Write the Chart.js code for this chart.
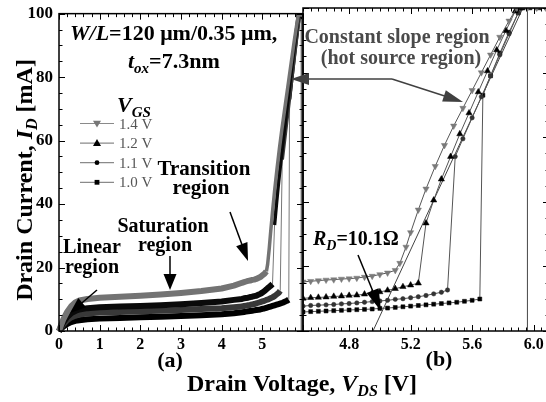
<!DOCTYPE html>
<html>
<head>
<meta charset="utf-8">
<script src="https://cdn.jsdelivr.net/npm/chart.js@4.4.1/dist/chart.umd.min.js"></script>
<style>
  html, body { margin: 0; padding: 0; background: #fff; overflow: hidden; }
  #wrap { position: relative; width: 546px; height: 402px; overflow: hidden; }
  #wrap canvas { position: absolute; left: 0; top: 0; }
</style>
</head>
<body>
<div id="wrap">
  <canvas id="chartA" width="546" height="402"></canvas>
  <canvas id="chartB" width="560" height="402"></canvas>
</div>
<script>
// V_GS curves (V_DS in V, I_D in mA)
var vgsLabels = ['1.4 V', '1.2 V', '1.1 V', '1.0 V'];

var vds14 = [0, 0.05, 0.1, 0.2, 0.3, 0.4, 0.5, 0.7, 1.0, 1.5, 2.0, 2.5, 3.0, 3.5, 4.0, 4.3,
  4.5, 4.55, 4.6, 4.65, 4.7, 4.75, 4.8, 4.85, 4.9, 4.95, 5.0, 5.05, 5.1, 5.13,
  5.17, 5.2, 5.25, 5.3, 5.36, 5.42, 5.48, 5.54, 5.6, 5.66, 5.72, 5.78, 5.84, 5.89,
  5.96, 6.02, 6.08, 6.14];
var id14 = [0, 1.8, 3.5, 6.0, 7.8, 9.0, 9.6, 10.1, 10.5, 10.8, 11.1, 11.5, 12.0, 12.6, 13.4, 14.3,
  15.2, 15.4, 15.6, 15.8, 15.9, 16.1, 16.2, 16.4, 16.7, 17.0, 17.5, 18.0, 18.8, 21.0,
  26.0, 30.5, 37.5, 44.0, 51.0, 57.5, 63.5, 69.0, 74.5, 80.0, 85.5, 91.0, 96.0, 100,
  100, 100, 100, 100];

var vds12 = [0, 0.05, 0.1, 0.2, 0.3, 0.4, 0.5, 0.7, 1.0, 1.5, 2.0, 2.5, 3.0, 3.5, 4.0, 4.3,
  4.5, 4.55, 4.6, 4.65, 4.7, 4.75, 4.8, 4.85, 4.9, 4.95, 5.0, 5.05, 5.1, 5.15, 5.2, 5.25,
  5.3, 5.35, 5.4, 5.46, 5.52, 5.58, 5.64, 5.7, 5.76, 5.82, 5.88, 5.91,
  5.97, 6.03, 6.09, 6.15];
var id12 = [0, 1.3, 2.6, 4.4, 5.6, 6.3, 6.8, 7.2, 7.5, 7.7, 7.9, 8.1, 8.4, 8.8, 9.3, 9.8,
  10.1, 10.3, 10.4, 10.5, 10.7, 10.8, 11.0, 11.1, 11.4, 11.7, 12.1, 12.6, 13.1, 13.7, 14.2, 14.8,
  33.4, 40.5, 47.0, 54.0, 61.0, 67.5, 74.0, 80.5, 87.0, 93.0, 99.0, 100,
  100, 100, 100, 100];

var vds11 = [0, 0.05, 0.1, 0.2, 0.3, 0.4, 0.5, 0.7, 1.0, 1.5, 2.0, 2.5, 3.0, 3.5, 4.0, 4.3,
  4.5, 4.55, 4.6, 4.65, 4.7, 4.75, 4.8, 4.85, 4.9, 4.95, 5.0, 5.05, 5.1, 5.15, 5.2, 5.25, 5.3, 5.35, 5.4, 5.44,
  5.49, 5.54, 5.6, 5.66, 5.72, 5.78, 5.84, 5.9, 5.92];
var id11 = [0, 1.0, 2.0, 3.4, 4.3, 4.8, 5.2, 5.5, 5.8, 6.0, 6.2, 6.4, 6.6, 6.9, 7.2, 7.5,
  7.7, 7.9, 8.0, 8.1, 8.2, 8.4, 8.5, 8.7, 8.9, 9.1, 9.3, 9.5, 9.8, 10.0, 10.3, 10.6, 11.0, 11.5, 12.0, 12.7,
  54.0, 59.5, 66.0, 72.5, 79.0, 85.5, 92.0, 98.5, 100];

var vds10 = [0, 0.05, 0.1, 0.2, 0.3, 0.4, 0.5, 0.7, 1.0, 1.5, 2.0, 2.5, 3.0, 3.5, 4.0, 4.3,
  4.5, 4.55, 4.6, 4.65, 4.7, 4.75, 4.8, 4.85, 4.9, 4.95, 5.0, 5.05, 5.1, 5.15, 5.2, 5.25, 5.3, 5.35, 5.4, 5.45, 5.5, 5.55, 5.6, 5.65,
  5.67, 5.72, 5.78, 5.84, 5.9, 5.93];
var id10 = [0, 0.7, 1.3, 2.2, 2.8, 3.2, 3.4, 3.7, 3.9, 4.1, 4.3, 4.5, 4.7, 5.0, 5.3, 5.6,
  5.9, 6.0, 6.1, 6.2, 6.3, 6.4, 6.5, 6.6, 6.7, 6.8, 7.0, 7.1, 7.3, 7.5, 7.7, 7.9, 8.1, 8.3, 8.5, 8.7, 8.9, 9.2, 9.5, 9.9,
  73.0, 79.0, 86.0, 92.5, 98.5, 100];

// R_D = 10.1 ohm fit line and the sweep return line
var rdVds = [4.955, 5.93];
var rdId = [0, 100];
var retVds = [5.96, 5.96];
var retId = [100, 0];

// tick labels
var xTicksA = [0, 1, 2, 3, 4, 5];
var xTicksB = [4.8, 5.2, 5.6, 6.0];
var yTicks = [0, 20, 40, 60, 80, 100];

var serif = '"Liberation Serif", "Times New Roman", serif';
var curveColors = ['#737373', '#0a0a0a', '#383838', '#000000'];

function pts(xs, ys) {
  return xs.map(function (x, i) { return { x: x, y: ys[i] }; });
}

function isMultiple(v, step) {
  var q = v / step;
  return Math.abs(q - Math.round(q)) < 1e-6;
}

function drawFrame(chart, xMinor, xMajor, yMinor, yMajor) {
  var ctx = chart.ctx, a = chart.chartArea, xs = chart.scales.x, ys = chart.scales.y;
  ctx.save();
  ctx.strokeStyle = '#000';
  ctx.lineWidth = 1;
  ctx.beginPath();
  var n = Math.round((xs.max - xs.min) / xMinor);
  for (var i = 0; i <= n; i++) {
    var v = xs.min + i * xMinor;
    var len = isMultiple(v, xMajor) ? 6 : 3.5;
    var px = Math.round(xs.getPixelForValue(v)) + 0.5;
    ctx.moveTo(px, a.bottom); ctx.lineTo(px, a.bottom - len);
    ctx.moveTo(px, a.top); ctx.lineTo(px, a.top + len);
  }
  n = Math.round((ys.max - ys.min) / yMinor);
  for (i = 0; i <= n; i++) {
    v = ys.min + i * yMinor;
    len = isMultiple(v, yMajor) ? 6 : 3.5;
    var py = Math.round(ys.getPixelForValue(v)) + 0.5;
    ctx.moveTo(a.left, py); ctx.lineTo(a.left + len, py);
    ctx.moveTo(a.right, py); ctx.lineTo(a.right - len, py);
  }
  ctx.stroke();
  ctx.lineWidth = 1.5;
  ctx.strokeRect(a.left, a.top, a.right - a.left, a.bottom - a.top);
  ctx.restore();
}

// text made of pieces with different fonts (italic letters, subscripts)
function richText(ctx, parts, x, y, align) {
  var total = 0;
  parts.forEach(function (p) {
    ctx.font = p.font;
    p.w = ctx.measureText(p.text).width;
    total += p.w;
  });
  var cx = align === 'center' ? x - total / 2 : x;
  ctx.textAlign = 'left';
  ctx.textBaseline = 'alphabetic';
  parts.forEach(function (p) {
    ctx.font = p.font;
    ctx.fillText(p.text, cx, y + (p.dy || 0));
    cx += p.w;
  });
}

function arrow(ctx, x0, y0, x1, y1, headLen, headW, color, lw) {
  var ang = Math.atan2(y1 - y0, x1 - x0);
  var c = Math.cos(ang), s = Math.sin(ang);
  ctx.save();
  ctx.strokeStyle = color;
  ctx.fillStyle = color;
  ctx.lineWidth = lw;
  ctx.beginPath();
  ctx.moveTo(x0, y0);
  ctx.lineTo(x1 - c * headLen * 0.8, y1 - s * headLen * 0.8);
  ctx.stroke();
  ctx.beginPath();
  ctx.moveTo(x1, y1);
  ctx.lineTo(x1 - headLen * c + headW / 2 * s, y1 - headLen * s - headW / 2 * c);
  ctx.lineTo(x1 - headLen * c - headW / 2 * s, y1 - headLen * s + headW / 2 * c);
  ctx.closePath();
  ctx.fill();
  ctx.restore();
}

function marker(ctx, style, x, y, r, color) {
  ctx.fillStyle = color;
  ctx.beginPath();
  if (style === 'down') {
    ctx.moveTo(x - r, y - r * 0.7); ctx.lineTo(x + r, y - r * 0.7); ctx.lineTo(x, y + r);
  } else if (style === 'up') {
    ctx.moveTo(x - r, y + r * 0.7); ctx.lineTo(x + r, y + r * 0.7); ctx.lineTo(x, y - r);
  } else if (style === 'circle') {
    ctx.arc(x, y, r * 0.6, 0, 2 * Math.PI);
  } else {
    ctx.rect(x - r * 0.6, y - r * 0.6, r * 1.2, r * 1.2);
  }
  ctx.closePath();
  ctx.fill();
}

function b(size) { return 'bold ' + size + 'px ' + serif; }
function bi(size) { return 'italic bold ' + size + 'px ' + serif; }

function drawPanelA(chart) {
  var ctx = chart.ctx;
  drawFrame(chart, 0.2, 1, 5, 20);
  ctx.save();
  ctx.fillStyle = '#000';

  // axis titles
  richText(ctx, [
    { text: 'Drain Voltage, ', font: b(24) },
    { text: 'V', font: bi(24) },
    { text: 'DS', font: bi(16), dy: 5 },
    { text: ' [V]', font: b(24) }
  ], 302, 391, 'center');
  ctx.save();
  ctx.translate(32, 180);
  ctx.rotate(-Math.PI / 2);
  richText(ctx, [
    { text: 'Drain Current, ', font: b(24) },
    { text: 'I', font: bi(24) },
    { text: 'D', font: bi(16), dy: 5 },
    { text: ' [mA]', font: b(24) }
  ], 0, 0, 'center');
  ctx.restore();

  ctx.font = b(22);
  ctx.textAlign = 'center';
  ctx.fillText('(a)', 170, 367);
  ctx.fillText('(b)', 439, 366);

  // device annotation
  richText(ctx, [
    { text: 'W/L', font: bi(22) },
    { text: '=120 \u03bcm/0.35 \u03bcm,', font: b(22) }
  ], 70, 40, 'left');
  richText(ctx, [
    { text: 't', font: bi(22) },
    { text: 'ox', font: bi(15), dy: 5 },
    { text: '=7.3nm', font: b(22) }
  ], 128, 68, 'left');

  // legend
  richText(ctx, [
    { text: 'V', font: bi(22) },
    { text: 'GS', font: bi(15), dy: 5 }
  ], 117, 112, 'left');
  var styles = ['down', 'up', 'circle', 'square'];
  var mColors = ['#777', '#000', '#000', '#000'];
  vgsLabels.forEach(function (lab, i) {
    var y = 123.5 + i * 19.6;
    ctx.strokeStyle = '#8a8a8a';
    ctx.lineWidth = 1.2;
    ctx.beginPath();
    ctx.moveTo(80, y); ctx.lineTo(114, y);
    ctx.stroke();
    marker(ctx, styles[i], 97, y, 4, mColors[i]);
    ctx.fillStyle = '#555';
    ctx.font = '15px ' + serif;
    ctx.textAlign = 'left';
    ctx.fillText(lab, 119, y + 5);
  });

  // region labels and arrows
  ctx.fillStyle = '#000';
  ctx.textAlign = 'center';
  ctx.font = b(21);
  ctx.fillText('Transition', 204, 175);
  ctx.fillText('region', 201, 194);
  ctx.font = b(20);
  ctx.fillText('Saturation', 163, 232);
  ctx.fillText('region', 165, 251);
  ctx.fillText('Linear', 92, 253);
  ctx.fillText('region', 92, 273);
  arrow(ctx, 230, 212, 248, 261, 18, 12, '#000', 1.5);
  arrow(ctx, 170, 256, 170, 290, 16, 13, '#000', 1.5);
  arrow(ctx, 97, 290, 70, 313, 16, 12, '#000', 1.5);
  ctx.restore();
}

function drawPanelB(chart) {
  var ctx = chart.ctx;
  drawFrame(chart, 0.05, 0.4, 5, 20);
  ctx.save();
  ctx.fillStyle = '#4a4a4a';
  ctx.textAlign = 'center';
  ctx.font = b(20);
  ctx.fillText('Constant slope region', 397, 43);
  ctx.fillText('(hot source region)', 401, 64);
  arrow(ctx, 392, 79, 291, 79, 18, 12, '#404040', 1.5);
  arrow(ctx, 392, 79, 463, 102, 20, 12, '#404040', 1.5);

  ctx.fillStyle = '#000';
  richText(ctx, [
    { text: 'R', font: bi(20) },
    { text: 'D', font: bi(14), dy: 5 },
    { text: '=10.1\u03a9', font: b(20) }
  ], 313, 245, 'left');
  arrow(ctx, 358, 255, 381, 311, 22, 13, '#000', 1.5);
  ctx.restore();
}

function isJump(c) { return c.p1.parsed.y - c.p0.parsed.y > 15; }
function isSteep(c) {
  var dx = c.p1.parsed.x - c.p0.parsed.x;
  return dx > 0 && (c.p1.parsed.y - c.p0.parsed.y) / dx > 60;
}

var tickFont = { family: serif, size: 16, weight: 'bold' };
var allVds = [vds14, vds12, vds11, vds10];
var allId = [id14, id12, id11, id10];

// panel (a): dense markers merge into thick bands
var dataA = allVds.map(function (v, i) {
  return {
    label: vgsLabels[i],
    data: pts(v, allId[i]),
    showLine: true,
    borderColor: curveColors[i],
    borderWidth: 6,
    borderJoinStyle: 'round',
    pointRadius: 0,
    clip: { left: 3, top: 0, right: 0, bottom: 3 },
    segment: {
      borderWidth: function (c) { return isJump(c) ? 1 : (isSteep(c) ? 3.5 : 6); },
      borderColor: function (c) { return isJump(c) ? '#777' : undefined; }
    }
  };
});
dataA.push({
  label: 'return', data: pts(retVds, retId), showLine: true,
  borderColor: '#666', borderWidth: 1, pointRadius: 0
});

new Chart(document.getElementById('chartA'), {
  type: 'scatter',
  data: { datasets: dataA },
  options: {
    responsive: false,
    animation: false,
    events: [],
    layout: { padding: { left: 0, top: 8, right: 243, bottom: 0 } },
    plugins: { legend: { display: false }, tooltip: { enabled: false } },
    scales: {
      x: {
        type: 'linear', min: 0, max: 6,
        grid: { display: false, drawTicks: false },
        border: { display: false },
        afterBuildTicks: function (s) { s.ticks = xTicksA.map(function (v) { return { value: v }; }); },
        afterFit: function (s) { s.height = 71; },
        ticks: { font: tickFont, color: '#000', padding: 4, maxRotation: 0, autoSkip: false,
          callback: function (v) { return String(v); } }
      },
      y: {
        type: 'linear', min: 0, max: 100,
        grid: { display: false, drawTicks: false },
        border: { display: false },
        afterBuildTicks: function (s) { s.ticks = yTicks.map(function (v) { return { value: v }; }); },
        afterFit: function (s) { s.width = 59; },
        ticks: { font: { family: serif, size: 17, weight: 'bold', lineHeight: 0.9 }, color: '#000', padding: 6,
          callback: function (v) { return String(v); } }
      }
    }
  },
  plugins: [{ id: 'panelA', afterDraw: drawPanelA }]
});

// panel (b): zoom on the snapback, markers visible
var markStyle = ['triangle', 'triangle', 'circle', 'rect'];
var markRot = [180, 0, 0, 0];
var markSize = [3.6, 3.6, 2.2, 2.8];
var markColor = ['#7a7a7a', '#000', '#333', '#000'];
var dataB = allVds.map(function (v, i) {
  return {
    label: vgsLabels[i],
    data: pts(v, allId[i]),
    showLine: true,
    borderColor: '#555',
    borderWidth: 1,
    pointStyle: markStyle[i],
    rotation: markRot[i],
    pointRadius: markSize[i],
    pointBackgroundColor: markColor[i],
    pointBorderColor: markColor[i],
    pointBorderWidth: 0.5
  };
});
dataB.push({
  label: 'R_D fit', data: pts(rdVds, rdId), showLine: true,
  borderColor: '#444', borderWidth: 1, pointRadius: 0
});
dataB.push({
  label: 'return', data: pts(retVds, retId), showLine: true,
  borderColor: '#555', borderWidth: 1, pointRadius: 0
});

new Chart(document.getElementById('chartB'), {
  type: 'scatter',
  data: { datasets: dataB },
  options: {
    responsive: false,
    animation: false,
    events: [],
    layout: { padding: { left: 303, top: 8, right: 11, bottom: 0 } },
    plugins: { legend: { display: false }, tooltip: { enabled: false } },
    scales: {
      x: {
        type: 'linear', min: 4.5, max: 6.1,
        grid: { display: false, drawTicks: false },
        border: { display: false },
        afterBuildTicks: function (s) { s.ticks = xTicksB.map(function (v) { return { value: v }; }); },
        afterFit: function (s) { s.height = 71; },
        ticks: { font: tickFont, color: '#000', padding: 4, maxRotation: 0, autoSkip: false,
          callback: function (v) { return v.toFixed(1); } }
      },
      y: { type: 'linear', min: 0, max: 100, display: false }
    }
  },
  plugins: [{ id: 'panelB', afterDraw: drawPanelB }]
});
</script>
</body>
</html>
